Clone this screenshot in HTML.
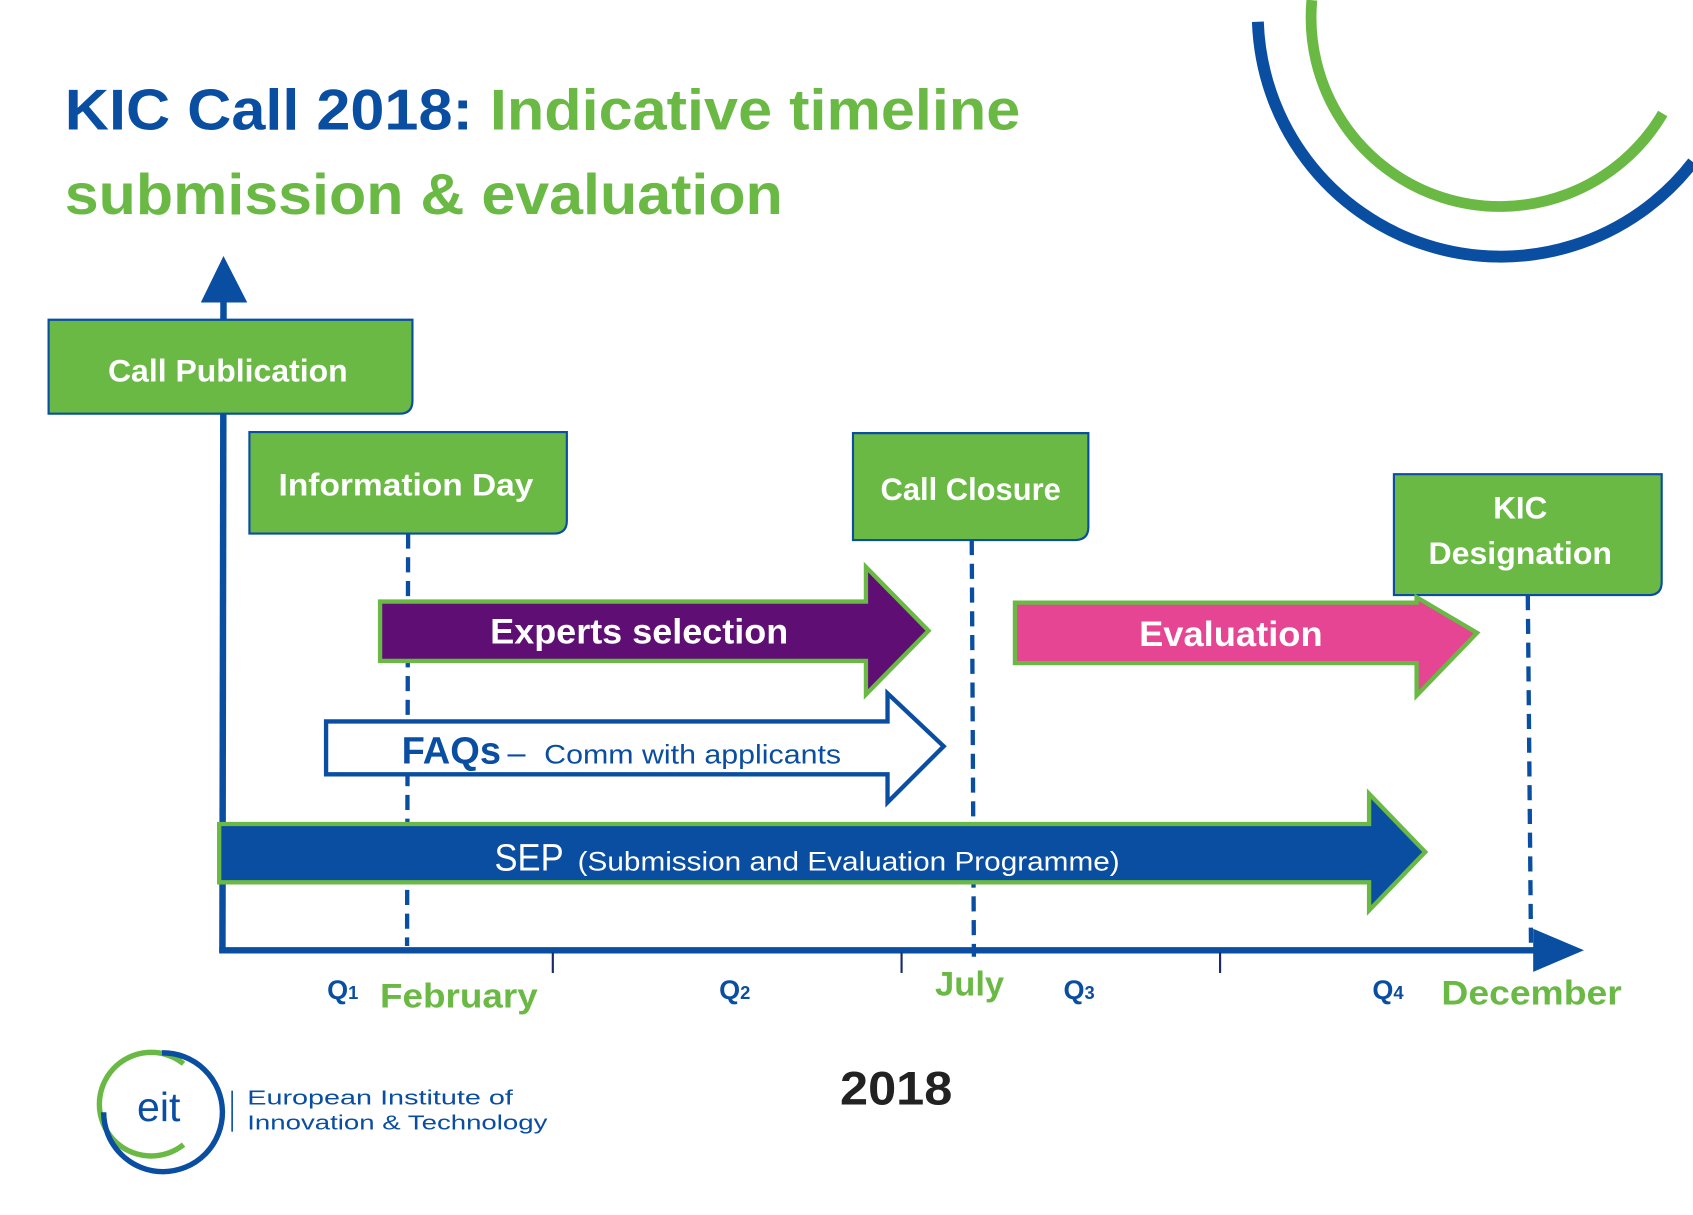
<!DOCTYPE html>
<html><head><meta charset="utf-8"><style>html,body{margin:0;padding:0;background:#fff}svg{display:block}</style></head>
<body>
<svg width="1693" height="1215" viewBox="0 0 1568 1125" xmlns="http://www.w3.org/2000/svg" font-family="Liberation Sans, sans-serif" font-weight="bold">
<path d="M1215,0 A175,175 0 0 0 1540,105" fill="none" stroke="#6ab945" stroke-width="10"/>
<path d="M1165,20 A225,225 0 0 0 1568,150" fill="none" stroke="#0a4ea2" stroke-width="11"/>
<text x="60" y="120" font-size="53" textLength="885" lengthAdjust="spacingAndGlyphs"><tspan fill="#0a4ea2">KIC Call 2018: </tspan><tspan fill="#6ab945">Indicative timeline</tspan></text>
<text x="60" y="198" font-size="53" fill="#6ab945" textLength="665" lengthAdjust="spacingAndGlyphs">submission &amp; evaluation</text>
<!-- axes -->
<line x1="206" y1="882" x2="207" y2="275" stroke="#0a4ea2" stroke-width="6"/>
<polygon points="186,280 207,237 229,280" fill="#0a4ea2"/>
<line x1="203" y1="880" x2="1425" y2="880" stroke="#0a4ea2" stroke-width="6"/>
<polygon points="1420,860 1467,880 1420,900" fill="#0a4ea2"/>
<g stroke="#1a2a6a" stroke-width="2"><line x1="512" y1="882" x2="512" y2="901"/><line x1="835" y1="882" x2="835" y2="901"/><line x1="1130" y1="882" x2="1130" y2="901"/></g>
<!-- dashed -->
<g stroke="#0a4ea2" stroke-width="4" stroke-dasharray="14,8"><line x1="378" y1="494" x2="377" y2="876"/><line x1="900" y1="500" x2="902" y2="886"/><line x1="1415" y1="551" x2="1418" y2="880"/></g>
<!-- boxes -->
<g fill="#6ab945" stroke="#0a4ea2" stroke-width="2">
<path d="M45,296 H382 V371 Q382,383 370,383 H45 Z"/>
<path d="M231,400 H525 V482 Q525,494 513,494 H231 Z"/>
<path d="M790,401 H1008 V488 Q1008,500 996,500 H790 Z"/>
<path d="M1291,439 H1539 V539 Q1539,551 1527,551 H1291 Z"/>
</g>
<g fill="#fff" font-size="29" text-anchor="middle">
<text x="211" y="353" textLength="222" lengthAdjust="spacingAndGlyphs">Call Publication</text>
<text x="376" y="459" textLength="236" lengthAdjust="spacingAndGlyphs">Information Day</text>
<text x="899" y="463" textLength="167" lengthAdjust="spacingAndGlyphs">Call Closure</text>
<text x="1408" y="480">KIC</text>
<text x="1408" y="522" textLength="170" lengthAdjust="spacingAndGlyphs">Designation</text>
</g>
<!-- arrows -->
<polygon points="352,557 802,557 802,525 860,584 802,643 802,612 352,612" fill="#5f0f74" stroke="#6ab945" stroke-width="4"/>
<text x="592" y="596" fill="#fff" font-size="33" text-anchor="middle" textLength="276" lengthAdjust="spacingAndGlyphs">Experts selection</text>
<polygon points="940,558 1312,558 1312,553 1368,586 1312,644 1312,614 940,614" fill="#e64593" stroke="#6ab945" stroke-width="4"/>
<text x="1140" y="598" fill="#fff" font-size="33" text-anchor="middle" textLength="170" lengthAdjust="spacingAndGlyphs">Evaluation</text>
<polygon points="302,668 822,668 822,642 874,691 822,743 822,717 302,717" fill="#fff" stroke="#0a4ea2" stroke-width="4"/>
<text x="372" y="707" fill="#0a4ea2" font-size="35" textLength="92" lengthAdjust="spacingAndGlyphs">FAQs</text>
<text x="470" y="707" fill="#0a4ea2" font-size="30" font-weight="normal">–</text>
<text x="504" y="707" fill="#0a4ea2" font-size="25" font-weight="normal" textLength="275" lengthAdjust="spacingAndGlyphs">Comm with applicants</text>
<polygon points="203,763 1268,763 1268,735 1320,789 1268,843 1268,817 203,817" fill="#0a4ea2" stroke="#6ab945" stroke-width="4"/>
<text x="458" y="806" fill="#fff" font-size="35" font-weight="normal" textLength="64" lengthAdjust="spacingAndGlyphs">SEP</text>
<text x="535" y="806" fill="#fff" font-size="25" font-weight="normal" textLength="502" lengthAdjust="spacingAndGlyphs">(Submission and Evaluation Programme)</text>
<!-- labels -->
<g fill="#0a4ea2" font-size="25">
<text x="303" y="925">Q<tspan font-size="17">1</tspan></text>
<text x="666" y="925">Q<tspan font-size="17">2</tspan></text>
<text x="985" y="925">Q<tspan font-size="17">3</tspan></text>
<text x="1271" y="925">Q<tspan font-size="17">4</tspan></text>
</g>
<g fill="#6ab945" font-size="32">
<text x="352" y="933" textLength="146" lengthAdjust="spacingAndGlyphs">February</text>
<text x="866" y="922" textLength="64" lengthAdjust="spacingAndGlyphs">July</text>
<text x="1335" y="930" textLength="167" lengthAdjust="spacingAndGlyphs">December</text>
</g>
<text x="830" y="1023" fill="#222" font-size="44" text-anchor="middle" textLength="104" lengthAdjust="spacingAndGlyphs">2018</text>
<!-- logo -->
<path d="M170,985 A48,48 0 1 0 170,1060" fill="none" stroke="#6ab945" stroke-width="5"/>
<path d="M150,975 A55,55 0 1 1 96,1030" fill="none" stroke="#0a4ea2" stroke-width="5"/>
<text x="147" y="1038" fill="#0a4ea2" font-size="38" font-weight="normal" text-anchor="middle">eit</text>
<line x1="215" y1="1010" x2="215" y2="1048" stroke="#0a4ea2" stroke-width="1.5"/>
<g fill="#0a4ea2" font-size="19" font-weight="normal">
<text x="229" y="1023" textLength="246" lengthAdjust="spacingAndGlyphs">European Institute of</text>
<text x="229" y="1046" textLength="278" lengthAdjust="spacingAndGlyphs">Innovation &amp; Technology</text>
</g>
</svg>
</body></html>
